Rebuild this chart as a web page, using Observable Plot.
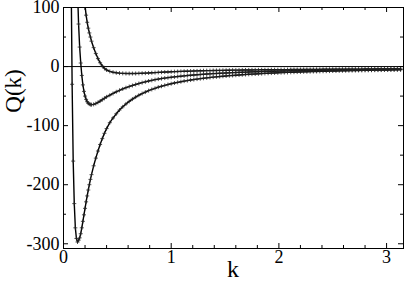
<!DOCTYPE html>
<html><head><meta charset="utf-8">
<script src="https://cdn.jsdelivr.net/npm/d3@7"></script>
<script src="https://cdn.jsdelivr.net/npm/@observablehq/plot@0.6"></script>
<style>
html,body{margin:0;padding:0;background:#fff;}
svg text{font-family:'Liberation Serif' !important;}
</style></head><body><div id="chart"></div>
<script>
// wavenumber k (shared by the three curves)
const k = [
  0.05,0.06,0.07,0.08,0.09,0.10,0.11,0.12,0.13,0.14,0.15,0.16,0.17,0.18,0.19,0.20,0.21,0.22,0.23,0.24,0.25,0.26,
  0.28,0.30,0.32,0.34,0.36,0.38,0.40,
  0.43,0.46,0.49,0.52,0.55,0.58,0.61,0.64,0.67,0.70,
  0.73,0.76,0.79,0.82,0.85,0.88,0.91,0.94,0.97,1.00,
  1.03,1.06,1.09,1.12,1.15,1.18,1.21,1.24,1.27,1.30,
  1.33,1.36,1.39,1.42,1.45,1.48,1.51,1.54,1.57,1.60,
  1.63,1.66,1.69,1.72,1.75,1.78,1.81,1.84,1.87,1.90,
  1.93,1.96,1.99,2.02,2.05,2.08,2.11,2.14,2.17,2.20,
  2.23,2.26,2.29,2.32,2.35,2.38,2.41,2.44,2.47,2.50,
  2.53,2.56,2.59,2.62,2.65,2.68,2.71,2.74,2.77,2.80,
  2.83,2.86,2.89,2.92,2.95,2.98,3.01,3.04,3.07,3.10,
  3.13
];
// upper curve
const q1 = [
  8000,4700,3000,2000,1420,1040,780,590,460,360,287,230,186,152,125,103,87,75,65,57,50,43,
  32,22,13.5,6.5,1,-3,-5.8,
  -8.2,-9.6,-10.5,-11.1,-11.5,-11.7,-11.8,-11.8,-11.7,-11.5,
  -11.3,-11.1,-10.8,-10.5,-10.2,-9.9,-9.6,-9.3,-9.1,-8.8,
  -8.6,-8.4,-8.2,-8.0,-7.8,-7.65,-7.5,-7.35,-7.2,-7.05,
  -6.9,-6.8,-6.7,-6.6,-6.5,-6.4,-6.3,-6.2,-6.1,-6.05,
  -5.95,-5.9,-5.8,-5.75,-5.7,-5.6,-5.55,-5.5,-5.45,-5.4,
  -5.35,-5.3,-5.25,-5.2,-5.15,-5.1,-5.05,-5.0,-4.95,-4.9,
  -4.85,-4.8,-4.78,-4.75,-4.7,-4.67,-4.63,-4.6,-4.56,-4.53,
  -4.5,-4.47,-4.44,-4.41,-4.38,-4.35,-4.32,-4.3,-4.27,-4.24,
  -4.22,-4.2,-4.17,-4.15,-4.13,-4.1,-4.08,-4.06,-4.04,-4.02,
  -4.0
];
// middle curve
const q2 = [
  8400,4600,2700,1600,950,580,360,220,130,72,33,6,-15,-31,-42,-50,-55.5,-59.5,-62,-63.5,-64.3,-64.5,
  -64,-62.6,-60.7,-58.5,-56.1,-53.7,-51.3,
  -48.5,-45.5,-42.7,-40.2,-37.9,-35.8,-33.8,-32.0,-30.3,-28.7,
  -27.2,-25.8,-24.5,-23.3,-22.2,-21.2,-20.3,-19.5,-18.8,-18.2,
  -17.5,-16.9,-16.3,-15.8,-15.2,-14.7,-14.3,-13.8,-13.4,-13.0,
  -12.7,-12.3,-12.0,-11.7,-11.4,-11.1,-10.8,-10.6,-10.3,-10.1,
  -9.8,-9.6,-9.4,-9.2,-9.0,-8.8,-8.7,-8.5,-8.3,-8.2,
  -8.0,-7.9,-7.7,-7.6,-7.5,-7.35,-7.2,-7.1,-7.0,-6.9,
  -6.8,-6.7,-6.6,-6.5,-6.4,-6.3,-6.2,-6.1,-6.05,-5.95,
  -5.9,-5.8,-5.75,-5.65,-5.6,-5.5,-5.45,-5.4,-5.35,-5.3,
  -5.2,-5.15,-5.1,-5.05,-5.0,-4.95,-4.9,-4.85,-4.8,-4.75,
  -4.7
];
// lower curve
const q3 = [
  2000,700,170,-30,-160,-232,-273,-291,-297,-294,-290,-283,-273,-262,-251,-240,-229,-219,-209,-200,-191,-183,
  -168,-155,-143,-132,-122,-113,-105,
  -95,-87,-80,-73.6,-68.2,-63.3,-59.0,-55.1,-51.6,-48.5,
  -45.7,-43.2,-40.8,-38.7,-36.8,-34.9,-33.3,-31.8,-30.4,-29.0,
  -27.8,-26.7,-25.6,-24.6,-23.7,-22.8,-22.0,-21.2,-20.5,-19.8,
  -19.2,-18.5,-17.9,-17.4,-16.9,-16.4,-15.9,-15.4,-15.0,-14.6,
  -14.2,-13.8,-13.4,-13.1,-12.8,-12.5,-12.2,-11.9,-11.6,-11.3,
  -11.0,-10.8,-10.55,-10.3,-10.1,-9.9,-9.7,-9.5,-9.3,-9.1,
  -8.9,-8.75,-8.6,-8.4,-8.25,-8.1,-7.95,-7.8,-7.65,-7.5,
  -7.4,-7.3,-7.15,-7.0,-6.9,-6.8,-6.7,-6.6,-6.5,-6.4,
  -6.3,-6.2,-6.1,-6.0,-5.9,-5.8,-5.75,-5.65,-5.6,-5.5,
  -5.4
];
const xMajor = [0, 1, 2, 3];
const xMinor = [0.2,0.4,0.6,0.8,1.2,1.4,1.6,1.8,2.2,2.4,2.6,2.8];
const yMajor = [-300, -200, -100, 0, 100];
const yMinor = [-250, -150, -50, 50];
const xLabel = "k";
const yLabel = "Q(k)";

const rows = [q1, q2, q3].flatMap((q, s) => k.map((kk, i) => ({k: kk, q: q[i], s})));
const plus = {draw(ctx, size) {
  const r = Math.sqrt(size / Math.PI);
  ctx.moveTo(-r, 0); ctx.lineTo(r, 0);
  ctx.moveTo(0, -r); ctx.lineTo(0, r);
}};

const W = 409, H = 282, mt = 7, mb = 34, ml = 63, mr = 6;
const iw = W - ml - mr, ih = H - mt - mb;
const font = "Liberation Serif";

const chart = Plot.plot({
  width: W, height: H,
  marginTop: mt, marginBottom: mb, marginLeft: ml, marginRight: mr,
  style: {fontFamily: font, fontSize: "17px", color: "#000", background: "#fff", overflow: "visible"},
  x: {domain: [0, 3.157]},
  y: {domain: [-308, 100]},
  marks: [
    Plot.ruleY([0], {stroke: "#000", strokeWidth: 1}),
    Plot.line(rows, {x: "k", y: "q", z: "s", stroke: "#000", strokeWidth: 1.4, clip: true}),
    Plot.dot(rows, {x: "k", y: "q", symbol: plus, r: 2, stroke: "#222", strokeWidth: 0.8, clip: true}),
    Plot.tickX(xMajor, {x: d => d, insetTop: ih - 5, stroke: "#000"}),
    Plot.tickX(xMajor, {x: d => d, insetBottom: ih - 5, stroke: "#000"}),
    Plot.tickX(xMinor, {x: d => d, insetTop: ih - 3, stroke: "#000"}),
    Plot.tickX(xMinor, {x: d => d, insetBottom: ih - 3, stroke: "#000"}),
    Plot.tickY(yMajor, {y: d => d, insetRight: iw - 5, stroke: "#000"}),
    Plot.tickY(yMajor, {y: d => d, insetLeft: iw - 5, stroke: "#000"}),
    Plot.tickY(yMinor, {y: d => d, insetRight: iw - 3, stroke: "#000"}),
    Plot.tickY(yMinor, {y: d => d, insetLeft: iw - 3, stroke: "#000"}),
    Plot.frame({stroke: "#000"}),
    Plot.axisX({ticks: xMajor, tickSize: 0, tickPadding: 2, label: null, fontSize: 18, fontFamily: font, tickFormat: d => String(d)}),
    Plot.axisY({ticks: yMajor, tickSize: 0, tickPadding: 4, label: null, fontSize: 18, fontFamily: font, tickFormat: d => String(d)})
  ]
});

const svg = d3.select(chart);
svg.append("text").attr("x", ml + iw / 2).attr("y", 277)
  .attr("text-anchor", "middle").style("font", "24px 'Liberation Serif'")
  .attr("fill", "#000").text(xLabel);
svg.append("text").attr("transform", "translate(21,91) rotate(-90)")
  .attr("text-anchor", "middle").style("font", "23px 'Liberation Serif'")
  .attr("fill", "#000").text(yLabel);

document.getElementById("chart").appendChild(chart);
</script></body></html>
